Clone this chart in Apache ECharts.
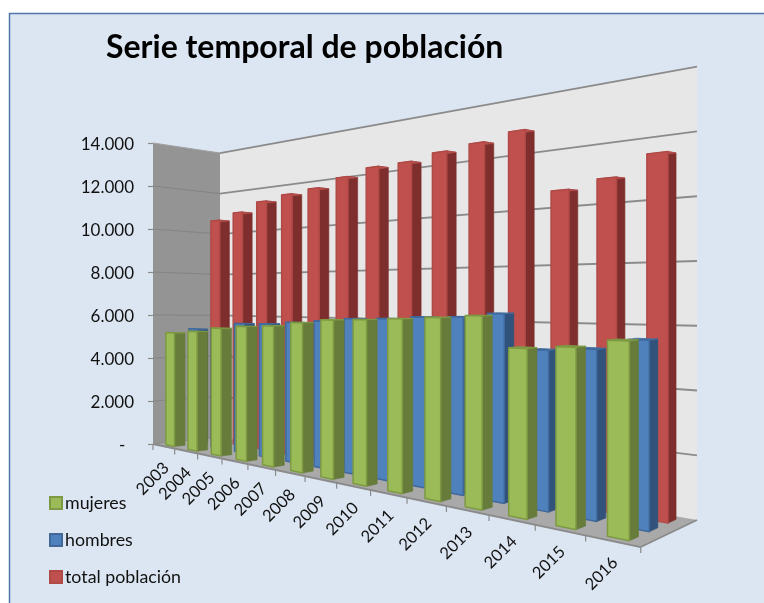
<!DOCTYPE html>
<html>
<head>
<meta charset="utf-8">
<style>html,body{margin:0;padding:0;background:#fff}#c{width:764px;height:603px}</style>
<script src="https://cdn.jsdelivr.net/npm/echarts@6/dist/echarts.min.js"></script>
</head>
<body>
<div id="c"></div>
<script>
const categories = ['2003','2004','2005','2006','2007','2008','2009','2010','2011','2012','2013','2014','2015','2016'];
const mujeres = [5196,5319,5514,5646,5717,5893,6045,6098,6170,6254,6349,5363,5479,5740];
const hombres = [5360,5420,5700,5734,5830,5930,6060,6100,6190,6230,6380,5220,5330,5680];
const totalPoblacion = [10554,10829,11222,11412,11537,11858,12108,12133,12340,12478,12702,10493,10747,11370];
const yMax = 14000;
const yStep = 2000;
const FONT = 'Lato, "Open Sans", sans-serif';

const chart = echarts.init(document.getElementById('c'), null, {renderer:'canvas'});

// perspective of the 3-D box: nx along years, ny up, nz into depth (all 0..1)
function project(nx, ny, nz) {
  const w = 1 - 0.396 * nx + 0.06 * nz;
  return [
    (153 + 234 * nx + 80.2 * nz - 4.4 * nx * nz) / w,
    (444 - 113.6 * nx + 19.2 * nz - 4.3 * nx * nz - 301 * ny) / w
  ];
}
const normX = (cs, px) => (px - cs.x) / cs.width;
const normY = (cs, py) => (cs.y + cs.height - py) / cs.height;
const poly = (points, fill, stroke, lw) => ({
  type: 'polygon', shape: { points }, silent: true,
  style: { fill, stroke: stroke || fill, lineWidth: lw === undefined ? 1 : lw, lineJoin: 'round' }
});
const line = (a, b, stroke, lw) => ({
  type: 'line', silent: true, shape: { x1: a[0], y1: a[1], x2: b[0], y2: b[1] },
  style: { stroke, lineWidth: lw }
});

function wallsItem() {
  return { type: 'group', children: [
    poly([project(0,0,0), project(0,1,0), project(0,1,1), project(0,0,1)], '#949494', 'transparent', 0),
    poly([project(0,0,1), project(0,1,1), project(1,1,1), project(1,0,1)], '#e7e7e7', 'transparent', 0),
    poly([project(0,0,0), project(0,0,1), project(1,0,1), project(1,0,0)], '#a9a9a9', 'transparent', 0)
  ]};
}
function gridItem(params, api) {
  const cs = params.coordSys;
  const v = api.value(1);
  const ny = normY(cs, api.coord([0, v])[1]);
  const c = '#8b8b8b';
  const kids = [];
  if (ny > 0) {
    kids.push(line(project(0,ny,0), project(0,ny,1), v >= yMax ? '#a0a0a0' : '#858585', 1.2));
    kids.push(line(project(0,ny,1), project(1,ny,1), c, 1.8));
  } else {
    kids.push(line(project(0,0,0), project(1,0,0), '#8a8a8a', 1.8));
    kids.push(line(project(1,0,0), project(1,0,1), '#8a8a8a', 1.8));
    kids.push(line(project(0,0,0), project(0,0,1), '#8a8a8a', 1.2));
  }
  return { type: 'group', children: kids };
}
function xAxisItem(params, api) {
  const cs = params.coordSys;
  const i = api.value(0);
  const cx = api.coord([i, 0])[0];
  const bw = api.size([1, 0])[0];
  const tickN = normX(cs, cx - bw / 2);
  const t = project(tickN, 0, 0);
  const kids = [line(t, [t[0], t[1] + 6], '#8a8a8a', 1.2)];
  if (i === categories.length - 1) {
    const e = project(1, 0, 0);
    kids.push(line(e, [e[0], e[1] + 6], '#8a8a8a', 1.2));
  }
  const m = project(normX(cs, cx), 0, 0);
  kids.push({ type: 'text', silent: true, x: m[0] + 2.5, y: m[1] + 19, rotation: Math.PI / 4,
    style: { text: categories[i], font: '16.5px ' + FONT, fill: '#111', align: 'right', verticalAlign: 'middle' } });
  return { type: 'group', children: kids };
}
function barRenderer(zCenter, front, side, top, edge) {
  const BAR = 0.4, DEPTH = 0.15;
  return function (params, api) {
    const cs = params.coordSys;
    const i = api.value(0), v = api.value(1);
    const cx = api.coord([i, v])[0];
    const bw = api.size([1, 0])[0];
    const x0 = normX(cs, cx - BAR * bw / 2), x1 = normX(cs, cx + BAR * bw / 2);
    const ny = normY(cs, api.coord([i, v])[1]);
    const z0 = zCenter - DEPTH / 2, z1 = zCenter + DEPTH / 2;
    return { type: 'group', children: [
      poly([project(x1,0,z0), project(x1,ny,z0), project(x1,ny,z1), project(x1,0,z1)], side, side, 0.6),
      poly([project(x0,ny,z0), project(x0,ny,z1), project(x1,ny,z1), project(x1,ny,z0)], top, edge, 0.8),
      poly([project(x0,0,z0), project(x0,ny,z0), project(x1,ny,z0), project(x1,0,z0)], front, edge, 1.5)
    ]};
  };
}
const pairs = vals => categories.map((c, i) => [c, vals[i]]);
const yTickValues = [];
for (let v = 0; v <= yMax; v += yStep) yTickValues.push(v);

function barSeries(name, vals, zc, front, side, top, edge) {
  return {
    name, type: 'custom', data: pairs(vals), encode: { x: 0, y: 1 },
    renderItem: barRenderer(zc, front, side, top, edge), clip: false, silent: true,
    itemStyle: { color: front, borderColor: edge, borderWidth: 1 }
  };
}

chart.setOption({
  animation: false,
  backgroundColor: '#ffffff',
  title: {
    text: 'Serie temporal de población', left: 101, top: 27,
    textStyle: { fontFamily: FONT, fontWeight: 'bold', fontSize: 32, color: '#000' }
  },
  graphic: [{
    type: 'rect', z: -100, silent: true,
    shape: { x: 9.5, y: 13.5, width: 800, height: 700 },
    style: { fill: '#dce6f2', stroke: '#4f76a6', lineWidth: 1.5 }
  }],
  legend: {
    orient: 'vertical', left: 44, top: 489, itemWidth: 12, itemHeight: 12, itemGap: 19,
    icon: 'rect', selectedMode: false,
    data: ['mujeres', 'hombres', 'total población'],
    textStyle: { fontFamily: FONT, fontSize: 17.8, color: '#111', padding: [0,0,0,-2] }
  },
  grid: { left: 153, top: 143, width: 488, height: 301, containLabel: false },
  xAxis: { type: 'category', data: categories, show: false },
  yAxis: {
    type: 'value', min: 0, max: yMax, interval: yStep,
    splitLine: { show: false },
    axisLine: { show: false },
    axisTick: { show: true, length: 5, lineStyle: { color: '#8a8a8a', width: 1.2 } },
    axisLabel: {
      margin: 19, fontFamily: FONT, fontSize: 17, color: '#111', verticalAlign: 'top', lineHeight: 3,
      formatter: v => v === 0 ? '-\u00a0\u00a0' : String(v).replace(/\B(?=(\d{3})+$)/g, '.')
    }
  },
  series: [
    { type: 'custom', data: [[categories[0], 0]], encode: { x: 0, y: 1 }, renderItem: wallsItem, silent: true, clip: false },
    { type: 'custom', data: yTickValues.map(v => [categories[0], v]), encode: { x: 0, y: 1 }, renderItem: gridItem, silent: true, clip: false },
    { type: 'custom', data: pairs(categories.map(() => 0)), encode: { x: 0, y: 1 }, renderItem: xAxisItem, silent: true, clip: false },
    barSeries('total población', totalPoblacion, 5/6, '#c0504d', '#7e2f2d', '#b8524f', '#b04a47'),
    barSeries('hombres', hombres, 1/2, '#4f81bd', '#30527b', '#3f6ea8', '#41699c'),
    barSeries('mujeres', mujeres, 1/6, '#9bbb59', '#677b3a', '#7e9a45', '#7d9a43')
  ]
});
</script>
</body>
</html>
